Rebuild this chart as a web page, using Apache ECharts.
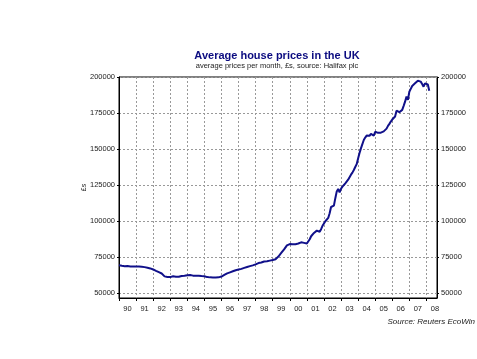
<!DOCTYPE html>
<html>
<head>
<meta charset="utf-8">
<script src="https://cdn.jsdelivr.net/npm/echarts@6/dist/echarts.min.js"></script>
<style>html,body{margin:0;padding:0;background:#fff;}#c{width:477px;height:359px;}</style>
</head>
<body>
<div id="c"></div>
<script>
// Monthly average house prices (£), Jan 1990 onward
const startYear = 1990;
const prices = [
  // 1990
  69500, 69300, 69100, 68900, 68800, 68700, 68900, 68800, 68700, 68600, 68700, 68800,
  // 1991
  68700, 68800, 68600, 68500, 68400, 68300, 68200, 68000, 67800, 67500, 67300, 67000,
  // 1992
  66600, 66200, 65600, 65100, 64700, 64400, 63800, 62900, 61800, 61600, 61400, 61200,
  // 1993
  61300, 61000, 61900, 62800, 61600, 61000, 61500, 62000, 62100, 62000, 62200, 62100,
  // 1994
  62600, 63000, 62700, 62400, 62300, 62300, 62200, 62400, 62200, 62100, 62000, 62100,
  // 1995
  61900, 61700, 61300, 61100, 61100, 61000, 61000, 61100, 61000, 61100, 61100, 61300,
  // 1996
  61700, 62200, 62800, 63300, 63900, 64300, 64600, 65000, 65300, 65700, 66000, 66200,
  // 1997
  66500, 66900, 67000, 67400, 67700, 68000, 68300, 68700, 68900, 69300, 69400, 69700,
  // 1998
  70100, 70500, 71000, 71200, 71400, 71700, 72100, 72000, 72300, 72400, 72700, 72900,
  // 1999
  73100, 73300, 73700, 74500, 75500, 76500, 78000, 79300, 80500, 81800, 83300, 84100,
  // 2000
  84200, 83900, 84000, 84200, 84100, 84300, 84600, 85500, 85400, 85200, 85000, 84800,
  // 2001
  84600, 85500, 87500, 89600, 90800, 91900, 93100, 93500, 93000, 92700, 94500, 96800,
  // 2002
  98500, 100000, 101200, 102300, 105500, 109900, 110400, 110800, 116000, 120700, 122400, 120000,
  // 2003
  122500, 124000, 125200, 126300, 127600, 128800, 130000, 132300, 133700, 135500, 137600, 139600,
  // 2004
  143500, 147300, 150500, 153500, 156300, 158000, 159400, 159000, 159200, 160600, 159800, 159400,
  // 2005
  162000, 161700, 161300, 161500, 161400, 161800, 162300, 162700, 164200, 166100, 167500, 169100,
  // 2006
  170500, 171500, 172600, 176700, 176000, 175600, 176500, 177200, 180000, 182900, 186400, 184100,
  // 2007
  189800, 191800, 193800, 194500, 195600, 196500, 197400, 197900, 196800, 195200, 193300, 195600,
  // 2008
  195400, 194800, 190500
];
const yearStarts = [1990,1991,1992,1993,1994,1995,1996,1997,1998,1999,2000,2001,2002,2003,2004,2005,2006,2007,2008];
const yearLabels = ['90','91','92','93','94','95','96','97','98','99','00','01','02','03','04','05','06','07','08'];
const priceTicks = [50000, 75000, 100000, 125000, 150000, 175000, 200000];

const seriesData = prices.map((v, i) => [startYear + i / 12, v]);
const labelPositions = yearStarts.map(y => y + 0.5);

const FONT = 'Liberation Sans, Arial, sans-serif';
const chart = echarts.init(document.getElementById('c'), null, {renderer: 'canvas'});
const yAxisCommon = {
  type: 'value',
  min: 46800,
  max: 200000,
  axisLine: {show: true, lineStyle: {color: '#000', width: 1}},
  axisTick: {show: true, length: 2, lineStyle: {color: '#000'}, customValues: priceTicks},
  axisLabel: {customValues: priceTicks, fontSize: 7.5, color: '#222', fontFamily: FONT, margin: 4,
    formatter: v => String(v)},
};
chart.setOption({
  animation: false,
  backgroundColor: '#fff',
  title: [
    {text: 'Average house prices in the UK', left: 272, top: 45, textAlign: 'center',
     textStyle: {fontSize: 11, fontWeight: 'bold', color: '#0b0b80', fontFamily: FONT}},
    {text: 'average prices per month, £s, source: Halifax plc', left: 272, top: 57, textAlign: 'center',
     textStyle: {fontSize: 7.5, fontWeight: 'normal', color: '#222', fontFamily: FONT}}
  ],
  grid: {left: 119, right: 40, top: 77, bottom: 61, show: true, borderColor: '#000', borderWidth: 1, containLabel: false},
  xAxis: {
    type: 'value', min: 1990, max: 2008.62,
    axisLine: {show: true, lineStyle: {color: '#000'}},
    axisTick: {show: true, length: 3, lineStyle: {color: '#000'}, customValues: yearStarts},
    axisLabel: {customValues: labelPositions, fontSize: 7.5, color: '#222', fontFamily: FONT, margin: 7,
      formatter: v => yearLabels[Math.floor(v) - startYear]},
    splitLine: {show: true, lineStyle: {color: '#999', type: [2, 2], width: 1}}
  },
  yAxis: [
    Object.assign({}, yAxisCommon, {
      position: 'left',
      name: '£s', nameLocation: 'middle', nameGap: 31, nameRotate: 90, nameMoveOverlap: false,
      nameTextStyle: {fontSize: 7, color: '#222', fontFamily: FONT},
      splitLine: {show: true, lineStyle: {color: '#999', type: [2, 2], width: 1}}
    }),
    Object.assign({}, yAxisCommon, {
      position: 'right',
      splitLine: {show: false}
    })
  ],
  graphic: [
    {type: 'text', right: 2, top: 318, style: {text: 'Source: Reuters EcoWin', fontSize: 8, fontStyle: 'italic', fill: '#222', fontFamily: FONT}}
  ],
  series: [{
    type: 'line', data: seriesData, showSymbol: false, symbol: 'none',
    lineStyle: {color: '#10108a', width: 2}, yAxisIndex: 0
  }]
});
</script>
</body>
</html>
